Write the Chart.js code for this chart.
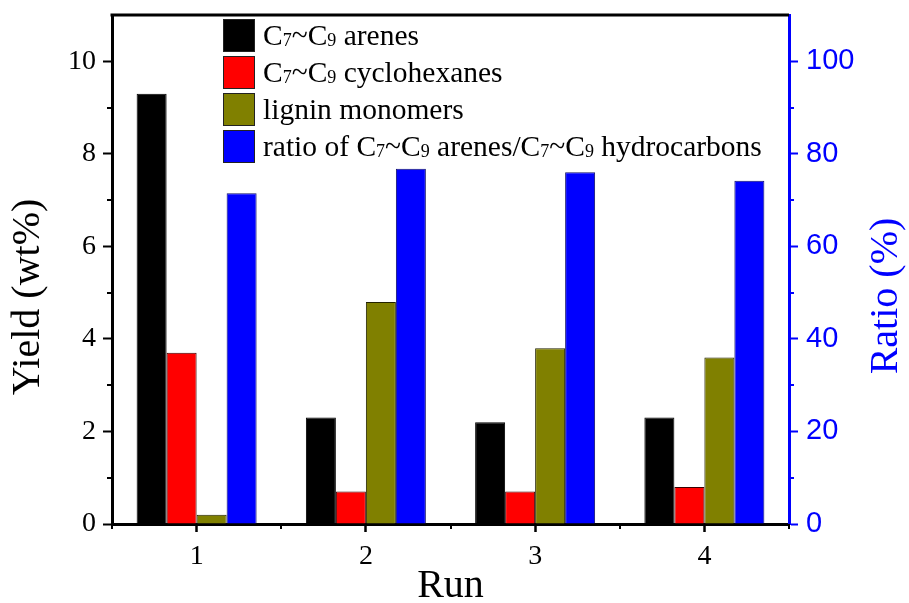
<!DOCTYPE html>
<html>
<head>
<meta charset="utf-8">
<script src="https://cdn.jsdelivr.net/npm/chart.js@4.4.1/dist/chart.umd.min.js"></script>
<style>
  html, body { margin: 0; padding: 0; background: #fff; }
  #wrap { width: 909px; height: 603px; }
</style>
</head>
<body>
<div id="wrap"><canvas id="runChart" width="909" height="603"></canvas></div>
<script>
// Runs and yields (wt%) / selectivity ratio (%)
const runs = ['1', '2', '3', '4'];
const arenes = [9.3, 2.3, 2.2, 2.3];
const cyclohexanes = [3.7, 0.7, 0.7, 0.8];
const ligninMonomers = [0.2, 4.8, 3.8, 3.6];
const areneRatio = [71.5, 76.8, 76.0, 74.2];

// Tick values for both value axes
const yieldTicks = [0, 2, 4, 6, 8, 10];
const yieldMinor = [1, 3, 5, 7, 9];
const ratioTicks = [0, 20, 40, 60, 80, 100];
const ratioMinor = [10, 30, 50, 70, 90];

// "_7" marks a subscript digit in legend labels
const labels = [
    'C_7~C_9 arenes',
    'C_7~C_9 cyclohexanes',
    'lignin monomers',
    'ratio of C_7~C_9 arenes/C_7~C_9 hydrocarbons'
];

const SERIF = '"Liberation Serif", "Times New Roman", serif';
const SANS = '"Liberation Sans", Arial, sans-serif';

function drawRich(ctx, text, x, y, size) {
    const parts = text.split(/_(\d)/);
    parts.forEach((p, i) => {
        if (!p) return;
        const sub = i % 2 === 1;
        ctx.font = (sub ? Math.round(size * 0.6) : size) + 'px ' + SERIF;
        ctx.fillText(p, x, y + (sub ? 1 : 0));
        x += ctx.measureText(p).width;
    });
}

function vText(ctx, text, x, y, color) {
    ctx.save();
    ctx.translate(x, y);
    ctx.rotate(-Math.PI / 2);
    ctx.fillStyle = color;
    ctx.textAlign = 'center';
    ctx.textBaseline = 'middle';
    ctx.font = '40px ' + SERIF;
    ctx.fillText(text, 0, 0);
    ctx.restore();
}

// fixed axis box, no label overhang padding
function fixWidth(w) {
    return s => { s.width = w; s.paddingTop = 0; s.paddingBottom = 0; };
}

// minor ticks, top frame line, axis titles and the legend
const decor = {
    id: 'decor',
    afterDraw(chart) {
        const ctx = chart.ctx;
        const area = chart.chartArea;
        const x = chart.scales.x, y = chart.scales.y, y2 = chart.scales.y2;
        ctx.save();

        ctx.lineWidth = 2;
        ctx.strokeStyle = '#000';
        ctx.beginPath();
        yieldMinor.forEach(v => {
            const py = Math.round(y.getPixelForValue(v));
            ctx.moveTo(area.left - 5, py);
            ctx.lineTo(area.left, py);
        });
        for (let i = 0; i <= runs.length; i++) {
            const px = Math.round(x.getPixelForValue(i - 0.5));
            ctx.moveTo(px, area.bottom);
            ctx.lineTo(px, area.bottom + 5);
        }
        ctx.stroke();

        ctx.strokeStyle = '#0000ff';
        ctx.beginPath();
        ratioMinor.forEach(v => {
            const py = Math.round(y2.getPixelForValue(v));
            ctx.moveTo(area.right, py);
            ctx.lineTo(area.right + 5, py);
        });
        ctx.stroke();

        // top frame
        ctx.lineWidth = 3;
        ctx.strokeStyle = '#000';
        ctx.beginPath();
        ctx.moveTo(area.left - 1.5, area.top);
        ctx.lineTo(area.right, area.top);
        ctx.stroke();

        vText(ctx, 'Yield (wt%)', 28, 297, '#000');
        vText(ctx, 'Ratio (%)', 886, 296, '#0000ff');

        ctx.fillStyle = '#000';
        ctx.textAlign = 'center';
        ctx.textBaseline = 'alphabetic';
        ctx.font = '40px ' + SERIF;
        ctx.fillText('Run', (area.left + area.right) / 2, 597);

        // legend
        ctx.textAlign = 'left';
        chart.data.datasets.forEach((ds, i) => {
            const top = 19 + i * 37;
            ctx.fillStyle = ds.backgroundColor;
            ctx.fillRect(223, top, 32, 33);
            ctx.lineWidth = 1;
            ctx.strokeStyle = '#222';
            ctx.strokeRect(223.5, top + 0.5, 31, 32);
            ctx.fillStyle = '#000';
            drawRich(ctx, ds.label, 263, top + 26, 29.5);
        });
        ctx.restore();
    }
};

window.onload = function() {
    const ctx = document.getElementById('runChart').getContext('2d');

    window.runChart = new Chart(ctx, {
        type: 'bar',
        data: {
            labels: runs,
            datasets: [
                { label: labels[0], data: arenes, backgroundColor: '#000000', borderColor: '#000000', yAxisID: 'y' },
                { label: labels[1], data: cyclohexanes, backgroundColor: '#ff0000', borderColor: '#3a0000', yAxisID: 'y' },
                { label: labels[2], data: ligninMonomers, backgroundColor: '#808000', borderColor: '#222200', yAxisID: 'y' },
                { label: labels[3], data: areneRatio, backgroundColor: '#0000ff', borderColor: '#10106a', yAxisID: 'y2' }
            ]
        },
        options: {
            responsive: false,
            animation: false,
            devicePixelRatio: 1,
            layout: { padding: { top: 15, left: 0, right: 0, bottom: 0 } },
            datasets: {
                bar: { categoryPercentage: 0.709, barPercentage: 1, borderWidth: 1 }
            },
            plugins: { legend: { display: false }, tooltip: { enabled: false } },
            scales: {
                x: {
                    offset: true,
                    afterFit: s => { s.height = 79; s.paddingLeft = 0; s.paddingRight = 0; },
                    grid: { offset: false, drawOnChartArea: false, color: '#000', tickLength: 8, tickWidth: 2.5 },
                    border: { color: '#000', width: 3 },
                    ticks: { color: '#000', font: { family: SERIF, size: 28 }, padding: 8, maxRotation: 0 }
                },
                y: {
                    position: 'left',
                    min: 0, max: 11,
                    afterFit: fixWidth(112),
                    afterBuildTicks: s => { s.ticks = yieldTicks.map(v => ({ value: v })); },
                    grid: { drawOnChartArea: false, color: '#000', tickLength: 9, tickWidth: 2 },
                    border: { color: '#000', width: 3 },
                    ticks: { color: '#000', font: { family: SERIF, size: 28 }, padding: 7 }
                },
                y2: {
                    position: 'right',
                    min: 0, max: 110,
                    afterFit: fixWidth(120),
                    afterBuildTicks: s => { s.ticks = ratioTicks.map(v => ({ value: v })); },
                    grid: { drawOnChartArea: false, color: '#0000ff', tickLength: 9, tickWidth: 2 },
                    border: { color: '#0000ff', width: 3 },
                    ticks: { color: '#0000ff', font: { family: SANS, size: 29 }, padding: 8 }
                }
            }
        },
        plugins: [decor]
    });
};
</script>
</body>
</html>
